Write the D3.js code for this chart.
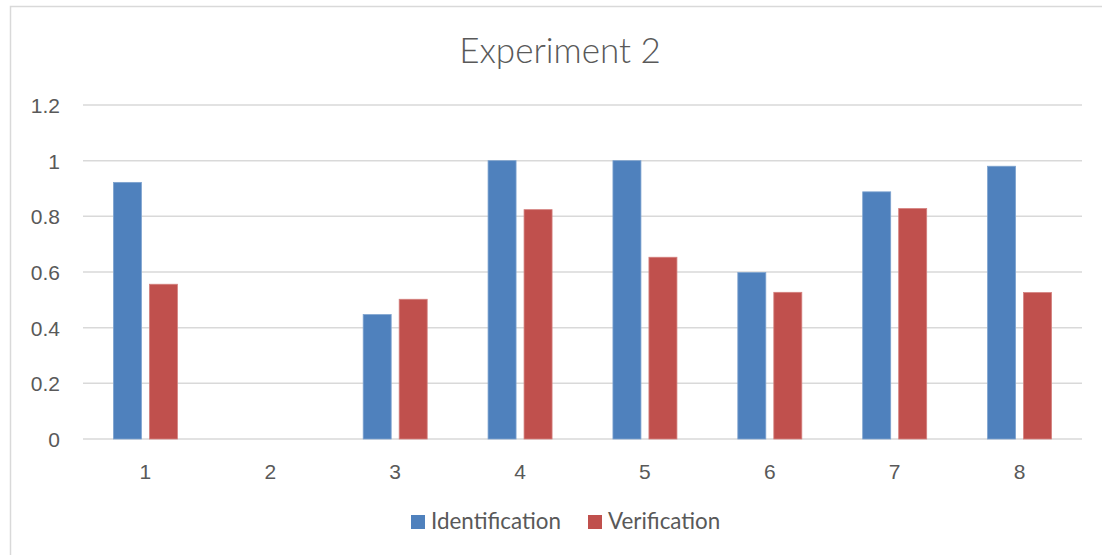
<!DOCTYPE html>
<html><head><meta charset="utf-8">
<script src="https://cdn.jsdelivr.net/npm/d3@7"></script>
<style>
html,body{margin:0;padding:0;background:#fff;}
svg{display:block;}
</style></head>
<body>
<svg id="chart" width="1102" height="555"></svg>
<script>
const categories = ["1","2","3","4","5","6","7","8"];
const seriesNames = ["Identification","Verification"];
const identification = [0.922, 0, 0.447, 1.0, 1.0, 0.598, 0.888, 0.980];
const verification = [0.556, 0, 0.502, 0.824, 0.653, 0.527, 0.828, 0.526];
const yTicks = [0, 0.2, 0.4, 0.6, 0.8, 1, 1.2];
const colors = ["#4F81BD", "#C0504D"];
const strokeColors = ["#7EA3CF", "#D4807E"];

const svg = d3.select("#chart");
const W = 1102, H = 555;
const plot = {left: 83, right: 1082, top: 105, bottom: 439};

// outer border
svg.append("rect").attr("x", 10.5).attr("y", 6.5).attr("width", W).attr("height", H)
  .attr("fill", "#fff").attr("stroke", "#d9d9d9").attr("stroke-width", 1.5);

const x = d3.scaleBand().domain(categories).range([plot.left, plot.right]).padding(0);
const y = d3.scaleLinear().domain([0, 1.2]).range([plot.bottom, plot.top]);

// gridlines
svg.append("g").selectAll("line").data(yTicks).join("line")
  .attr("x1", plot.left).attr("x2", plot.right)
  .attr("y1", d => y(d)).attr("y2", d => y(d))
  .attr("stroke", "#d9d9d9").attr("stroke-width", 1.5);

// y axis labels
const yAxis = d3.axisLeft(y).tickValues(yTicks).tickSize(0).tickPadding(0).tickFormat(d => String(d));
const yg = svg.append("g").attr("transform", `translate(${plot.left - 23},0)`).call(yAxis);
yg.select(".domain").remove();
yg.selectAll("text").attr("font-family", "Liberation Sans, Arial, sans-serif")
  .attr("font-size", 21).attr("fill", "#595959").attr("dy", "0.36em");

// x axis labels
const xAxis = d3.axisBottom(x).tickSize(0).tickPadding(0);
const xg = svg.append("g").attr("transform", `translate(0,${plot.bottom + 40})`).call(xAxis);
xg.select(".domain").remove();
xg.selectAll("text").attr("font-family", "Liberation Sans, Arial, sans-serif")
  .attr("font-size", 21).attr("fill", "#595959").attr("dy", 0).attr("y", 0);

// bars
const barW = 28, gap = 8;
const inner = d3.scaleBand().domain(seriesNames).range([0, barW * 2 + gap]).paddingInner(gap / (barW + gap));
const data = categories.map((c, i) => ({c, vals: [identification[i], verification[i]]}));
const groups = svg.append("g").selectAll("g").data(data).join("g")
  .attr("transform", d => `translate(${x(d.c) + x.bandwidth() / 2 - (barW * 2 + gap) / 2},0)`);
groups.selectAll("rect").data(d => d.vals.map((v, k) => ({v, k})).filter(e => e.v > 0)).join("rect")
  .attr("x", e => inner(seriesNames[e.k]))
  .attr("width", inner.bandwidth())
  .attr("y", e => y(e.v))
  .attr("height", e => y(0) - y(e.v))
  .attr("fill", e => colors[e.k])
  .attr("stroke", e => strokeColors[e.k]).attr("stroke-width", 0.8);

// title
svg.append("text").attr("x", 560).attr("y", 63).attr("text-anchor", "middle")
  .attr("font-family", "Lato, 'Open Sans', sans-serif").attr("font-weight", 300)
  .attr("font-size", 35).attr("fill", "#595959").text("Experiment 2");

// legend
const legendItems = [{name: seriesNames[0], x: 411, c: colors[0]}, {name: seriesNames[1], x: 588, c: colors[1]}];
const lg = svg.append("g").selectAll("g").data(legendItems).join("g")
  .attr("transform", d => `translate(${d.x},0)`);
lg.append("rect").attr("x", 0).attr("y", 515).attr("width", 14).attr("height", 14).attr("fill", d => d.c);
lg.append("text").attr("x", 20).attr("y", 529)
  .attr("font-family", "Lato, 'Open Sans', sans-serif").attr("font-size", 22.4)
  .attr("fill", "#595959").text(d => d.name);
</script>
</body></html>
